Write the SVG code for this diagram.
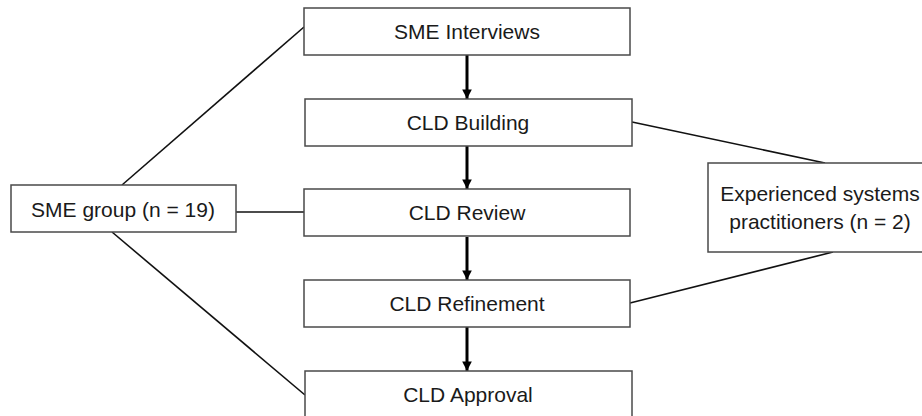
<svg xmlns="http://www.w3.org/2000/svg" width="922" height="416" viewBox="0 0 922 416">
  <style>
    .box { fill: #ffffff; stroke: #4a4a4a; stroke-width: 1.5; }
    .label { font-family: "Liberation Sans", Arial, sans-serif; font-size: 21px; fill: #1a1a1a; text-anchor: middle; }
    .link { stroke: #111111; stroke-width: 1.6; fill: none; }
    .flow { stroke: #000000; stroke-width: 3; fill: none; marker-end: url(#arrow); }
  </style>
  <defs>
    <marker id="arrow" viewBox="0 0 10 10" refX="10" refY="5" markerWidth="3.2" markerHeight="3.3" markerUnits="strokeWidth" orient="auto">
      <path d="M0,0 L10,5 L0,10 Z" fill="#000000"/>
    </marker>
  </defs>
  <rect width="922" height="416" fill="#ffffff"/>

  <g id="connectors">
    <!-- SME group links -->
    <line class="link" x1="122" y1="185" x2="304" y2="27"/>
    <line class="link" x1="236" y1="212" x2="304" y2="212"/>
    <line class="link" x1="112" y1="232" x2="305" y2="395"/>
    <!-- practitioner links -->
    <line class="link" x1="632" y1="122" x2="825" y2="163"/>
    <line class="link" x1="630" y1="303" x2="833" y2="252"/>
    <!-- process flow -->
    <line class="flow" x1="467" y1="55" x2="467" y2="99"/>
    <line class="flow" x1="467" y1="146" x2="467" y2="189"/>
    <line class="flow" x1="467" y1="237" x2="467" y2="280"/>
    <line class="flow" x1="467" y1="327" x2="467" y2="371"/>
  </g>

  <g id="sme-interviews">
    <rect class="box" x="304" y="8" width="326" height="47"/>
    <text class="label" x="467" y="39">SME Interviews</text>
  </g>
  <g id="cld-building">
    <rect class="box" x="305" y="99" width="327" height="47"/>
    <text class="label" x="468" y="130">CLD Building</text>
  </g>
  <g id="cld-review">
    <rect class="box" x="304" y="189" width="326" height="47"/>
    <text class="label" x="467" y="220">CLD Review</text>
  </g>
  <g id="cld-refinement">
    <rect class="box" x="304" y="280" width="326" height="47"/>
    <text class="label" x="467" y="311">CLD Refinement</text>
  </g>
  <g id="cld-approval">
    <rect class="box" x="305" y="371" width="327" height="47"/>
    <text class="label" x="468" y="402">CLD Approval</text>
  </g>
  <g id="sme-group">
    <rect class="box" x="11" y="185" width="225" height="47"/>
    <text class="label" x="123" y="217">SME group (n = 19)</text>
  </g>
  <g id="systems-practitioners">
    <rect class="box" x="708" y="163" width="226" height="89"/>
    <text class="label" x="820" y="201">Experienced systems</text>
    <text class="label" x="820" y="229">practitioners (n = 2)</text>
  </g>
</svg>
